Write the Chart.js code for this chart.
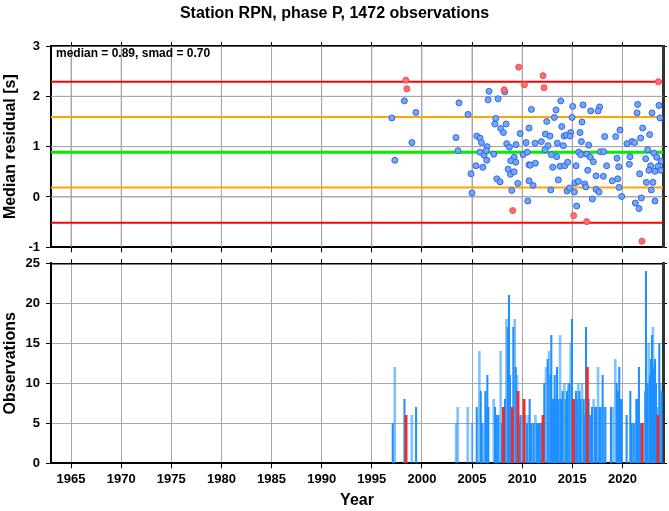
<!DOCTYPE html>
<html><head><meta charset="utf-8">
<script src="https://cdn.jsdelivr.net/npm/chart.js@4.4.1/dist/chart.umd.min.js"></script>
<style>
html,body{margin:0;padding:0;background:#fff;}
#wrap{position:relative;width:669px;height:511px;background:#fff;}
#c1{position:absolute;left:0;top:0;}
#c2{position:absolute;left:0;top:255px;}
</style></head><body>
<div id="wrap"><canvas id="c1" width="669" height="255"></canvas><canvas id="c2" width="669" height="256"></canvas></div>
<script>
// ---------- data ----------
const titleText = 'Station RPN, phase P, 1472 observations';
const median = 0.89;
const smad = 0.70;
const yearTicks = [1965,1970,1975,1980,1985,1990,1995,2000,2005,2010,2015,2020];
const residTicks = [-1,0,1,2,3];
const obsTicks = [0,5,10,15,20,25];

const normalYears = [1997.0,1997.3,1998.25,1999.0,1999.4,2003.4,2003.6,2003.7,2004.6,2004.9,2005.0,2005.47,2005.8,2005.94,2005.8,2006.2,2006.5,2006.4,2006.47,2005.4,2006.07,2006.7,2006.6,2007.6,2008.26,2007.37,2007.27,2008.4,2007.86,2008.13,2009.8,2010.69,2008.46,2008.73,2009.39,2010.39,2007.17,2010.1,2010.5,2009.2,2008.86,2009.36,2008.6,2008.83,2009.2,2010.69,2007.47,2007.8,2009.56,2010.69,2008.96,2010.56,
2013.85,2010.92,2013.38,2015.04,2016.07,2016.84,2013.21,2014.98,2012.45,2015.97,2013.95,2012.32,2012.78,2014.18,2014.41,2014.84,2014.78,2015.77,2011.29,2011.92,2012.58,2013.51,2014.11,2015.91,2016.64,2012.28,2012.92,2013.45,2015.64,2015.84,2016.44,2016.8,2017.1,2010.82,2011.32,2013.05,2013.78,2014.24,2014.54,2015.38,2016.54,2011.09,2013.61,2015.27,2015.61,2016.24,2016.34,2012.85,2014.48,2014.74,2015.21,2017.0,2015.44,
2021.52,2023.65,2017.73,2017.57,2021.46,2022.95,2023.75,2022.02,2019.76,2018.23,2019.33,2022.72,2021.82,2020.46,2020.96,2021.22,2022.52,2017.8,2018.13,2023.15,2019.46,2020.76,2022.32,2023.42,2023.85,2018.43,2019.63,2020.69,2022.82,2023.55,2022.65,2023.25,2023.82,2017.37,2018.1,2021.72,2018.99,2019.53,2022.39,2023.05,2019.66,2017.37,2017.67,2022.88,2019.93,2021.89,2023.25,2021.29,2021.66];
const normalResid = [1.57,0.73,1.91,1.08,1.68,1.18,0.92,1.87,1.64,0.46,0.08,1.21,1.17,1.08,0.89,0.83,1.0,0.92,0.73,0.62,0.59,2.10,1.93,1.95,2.09,1.56,1.45,1.45,1.36,1.28,1.26,1.37,1.06,0.99,1.04,1.08,0.85,0.84,0.89,0.79,0.72,0.69,0.55,0.45,0.50,0.64,0.36,0.30,0.27,0.32,0.13,-0.08,
1.91,1.74,1.73,1.80,1.83,1.71,1.58,1.58,1.50,1.49,1.40,1.25,1.21,1.21,1.23,1.28,1.21,1.28,1.07,1.10,1.02,1.07,1.02,1.10,1.03,0.94,0.84,0.80,0.89,0.84,0.85,0.79,0.70,0.63,0.67,0.59,0.61,0.62,0.69,0.62,0.53,0.23,0.34,0.28,0.31,0.26,0.20,0.14,0.12,0.18,0.10,-0.04,-0.18,
1.84,1.82,1.79,1.71,1.67,1.67,1.57,1.37,1.33,1.20,1.20,1.24,1.17,1.06,1.10,1.08,0.94,0.90,0.90,0.87,0.77,0.80,0.76,0.79,0.71,0.62,0.60,0.65,0.62,0.61,0.53,0.51,0.53,0.42,0.41,0.46,0.32,0.36,0.29,0.29,0.19,0.15,0.10,0.14,0.01,-0.02,-0.08,-0.12,-0.23];

const outlierYears = [1998.4,1998.5,2008.2,2009.66,2010.22,2009.06,2012.08,2012.18,2015.14,2016.44,2023.58,2021.95];
const outlierResid = [2.32,2.15,2.13,2.58,2.23,-0.27,2.41,2.17,-0.37,-0.49,2.29,-0.88];

const barYears = [1997.09,1998.26,1999.42,2005.47,2005.87,2005.97,2006.33,2006.43,2006.53,2006.63,2007.3,2007.46,2007.63,2007.96,2008.29,2008.56,2008.69,2008.79,2008.89,2009.12,2009.36,2009.72,2009.82,2010.49,2010.75,2010.88,2011.15,2011.45,2011.6,2011.75,2011.92,2012.21,2012.55,2012.81,2012.91,2013.08,2013.24,2013.38,2013.48,2013.64,2013.88,2014.04,2014.34,2014.47,2014.71,2014.97,2015.24,2015.37,2015.47,2015.7,2015.84,2016.14,2016.27,2016.37,2016.63,2016.8,2016.97,2017.27,2017.4,2017.7,2017.83,2018.03,2018.3,2018.86,2019.43,2019.56,2019.69,2019.82,2019.92,2020.42,2020.79,2020.92,2021.12,2021.39,2021.52,2021.65,2021.82,2022.28,2022.35,2022.52,2022.75,2022.85,2022.95,2023.15,2023.25,2023.35,2023.42,2023.68,2023.91];
const barCounts = [5,8,7,7,9,5,9,7,11,7,7,6,6,5,8,17,21,11,6,17,12,5,6,5,8,5,5,5,5,5,5,10,13,11,16,8,11,8,12,8,8,9,8,9,10,18,8,9,8,9,8,8,6,17,8,6,7,7,7,7,7,11,7,7,10,9,12,8,8,6,9,5,5,8,8,12,5,9,24,10,11,13,16,12,13,10,7,15,9];

const lightBarYears = [1997.29,1998.99,2003.41,2003.57,2004.57,2005.0,2005.73,2006.13,2007.16,2007.86,2008.43,2009.26,2009.49,2010.05,2010.32,2010.65,2011.02,2011.32,2012.38,2012.68,2013.78,2014.21,2014.61,2014.84,2015.6,2015.97,2017.13,2017.57,2018.16,2019.03,2019.29,2021.25,2022.62,2023.05,2023.78];
const lightBarCounts = [12,6,5,7,7,5,14,5,8,14,18,18,11,6,6,6,5,6,12,14,16,10,10,15,10,10,8,12,7,7,13,5,15,17,10];

const outlierBarYears = [1998.42,2008.13,2009.02,2009.59,2010.19,2012.08,2015.1,2016.5,2021.99,2023.55];
const outlierBarCounts = [6,7,7,9,8,6,8,12,5,6];

// ---------- helpers ----------
const FONT = "'Liberation Sans', Arial, Helvetica, sans-serif";
const yearMin = 1963, yearMax = 2024.05;
const residMin = -1, residMax = 3;
const gridCol = '#a8a8a8';
const pts = (xs, ys) => xs.map((x, i) => ({x: x, y: ys[i]}));
const fixW = w => s => { s.width = w; s.paddingTop = 0; s.paddingBottom = 0; };
const fixH = h => s => { s.height = h; s.paddingLeft = 0; s.paddingRight = 0; };
const setTicks = vals => s => { s.ticks = vals.map(v => ({value: v})); };
const tickFont = () => ({family: FONT, size: 13, weight: 'bold'});
const titleFont = () => ({family: FONT, size: 16, weight: 'bold'});

function hline(v, color, width, order) {
  return {type: 'line', data: [{x: yearMin, y: v}, {x: yearMax, y: v}], borderColor: color,
          backgroundColor: color, borderWidth: width, pointRadius: 0, fill: false, showLine: true, order: order};
}
function vline(t, color, width, order) {
  return {type: 'line', data: [{x: t, y: residMin}, {x: t, y: residMax}], borderColor: color,
          backgroundColor: color, borderWidth: width, pointRadius: 0, fill: false, showLine: true, order: order};
}

const annot = {
  id: 'annot',
  afterDraw(chart) {
    const ctx = chart.ctx, a = chart.chartArea;
    ctx.save();
    ctx.font = 'bold 12px ' + FONT;
    ctx.fillStyle = '#000';
    ctx.textBaseline = 'middle';
    ctx.fillText('median = ' + median.toFixed(2) + ', smad = ' + smad.toFixed(2), a.left + 5, a.top + 8);
    ctx.restore();
  }
};

function xAxes(labels, bottomH, topH, title) {
  return {
    x: {type: 'linear', position: 'bottom', min: yearMin, max: yearMax, offset: false,
        afterBuildTicks: setTicks(yearTicks), afterFit: fixH(bottomH),
        ticks: {display: labels, font: tickFont(), color: '#000', padding: 3, maxRotation: 0, autoSkip: false, callback: v => String(v)},
        grid: {display: true, drawOnChartArea: true, color: gridCol, lineWidth: 1, tickLength: 5, tickColor: '#000', offset: false},
        border: {display: true, color: '#000', width: 2},
        title: title ? {display: true, text: title, font: titleFont(), color: '#000', padding: {top: 0, bottom: 1}} : {display: false}},
    xTop: {type: 'linear', position: 'top', min: yearMin, max: yearMax, offset: false,
        afterBuildTicks: setTicks(yearTicks), afterFit: fixH(topH),
        ticks: {display: false},
        grid: {drawOnChartArea: false, tickLength: 4, tickColor: '#000', offset: false},
        border: {display: true, color: '#000', width: 1.5}}
  };
}
function yAxes(min, max, tickVals, title) {
  return {
    y: {type: 'linear', position: 'left', min: min, max: max,
        afterBuildTicks: setTicks(tickVals), afterFit: fixW(51),
        ticks: {font: tickFont(), color: '#000', padding: 6},
        grid: {display: true, drawOnChartArea: true, color: gridCol, lineWidth: 1, tickLength: 5, tickColor: '#000'},
        border: {display: true, color: '#000', width: 2},
        title: {display: true, text: title, font: titleFont(), color: '#000', padding: {top: 1, bottom: 0}}},
    yRight: {type: 'linear', position: 'right', min: min, max: max,
        afterBuildTicks: setTicks(tickVals), afterFit: fixW(6),
        ticks: {display: false},
        grid: {drawOnChartArea: false, tickLength: 4, tickColor: '#000'},
        border: {display: true, color: '#333', width: 3}}
  };
}

// ---------- bottom chart (observations per bin) ----------
new Chart(document.getElementById('c2'), {
  type: 'bar',
  data: {datasets: [
    {label: 'outlier bins', data: pts(outlierBarYears, outlierBarCounts), backgroundColor: '#ee2c2c', barThickness: 2.2, grouped: false, order: 0},
    {label: 'bins', data: pts(barYears, barCounts), backgroundColor: 'rgb(30,144,255)', barThickness: 1.4, grouped: false, order: 1},
    {label: 'bins (light)', data: pts(lightBarYears, lightBarCounts), backgroundColor: 'rgba(30,144,255,0.55)', barThickness: 2, grouped: false, order: 2}
  ]},
  options: {
    responsive: false, animation: false, devicePixelRatio: 1,
    layout: {padding: 0},
    plugins: {legend: {display: false}, tooltip: {enabled: false}},
    scales: Object.assign({}, xAxes(true, 47.7, 8.3, 'Year'), yAxes(0, 25, obsTicks, 'Observations'))
  }
});

// ---------- top chart (median residuals) ----------
const topDatasets = [
  {type: 'scatter', label: 'outliers', data: pts(outlierYears, outlierResid), backgroundColor: '#ff6e6e', borderColor: '#f04a4a',
   borderWidth: 1, pointRadius: 3, showLine: false, order: 0},
  {type: 'scatter', label: 'residuals', data: pts(normalYears, normalResid), backgroundColor: '#75a7f7', borderColor: '#2e63ee',
   borderWidth: 1, pointRadius: 3, showLine: false, order: 1},
  hline(median, '#00ee00', 3, 5),
  hline(median + smad, '#ffa500', 2, 5),
  hline(median - smad, '#ffa500', 2, 5),
  hline(median + 2 * smad, '#ff0000', 2, 5),
  hline(median - 2 * smad, '#ff0000', 2, 5)
];
// grid lines at the tick values, placed under every other mark
yearTicks.forEach(t => topDatasets.push(vline(t, gridCol, 1, 20)));
residTicks.slice(1, -1).forEach(v => topDatasets.push(hline(v, gridCol, 1, 20)));

new Chart(document.getElementById('c1'), {
  type: 'bar',
  data: {datasets: topDatasets},
  options: {
    responsive: false, animation: false, devicePixelRatio: 1,
    layout: {padding: 0},
    plugins: {legend: {display: false}, tooltip: {enabled: false},
      title: {display: true, text: titleText, font: {family: FONT, size: 16, weight: 'bold'}, color: '#000',
              padding: {top: 4, bottom: 17.8}}},
    scales: Object.assign({}, xAxes(false, 7.7, 5, null), yAxes(residMin, residMax, residTicks, 'Median residual [s]'))
  },
  plugins: [annot]
});
</script>
</body></html>
